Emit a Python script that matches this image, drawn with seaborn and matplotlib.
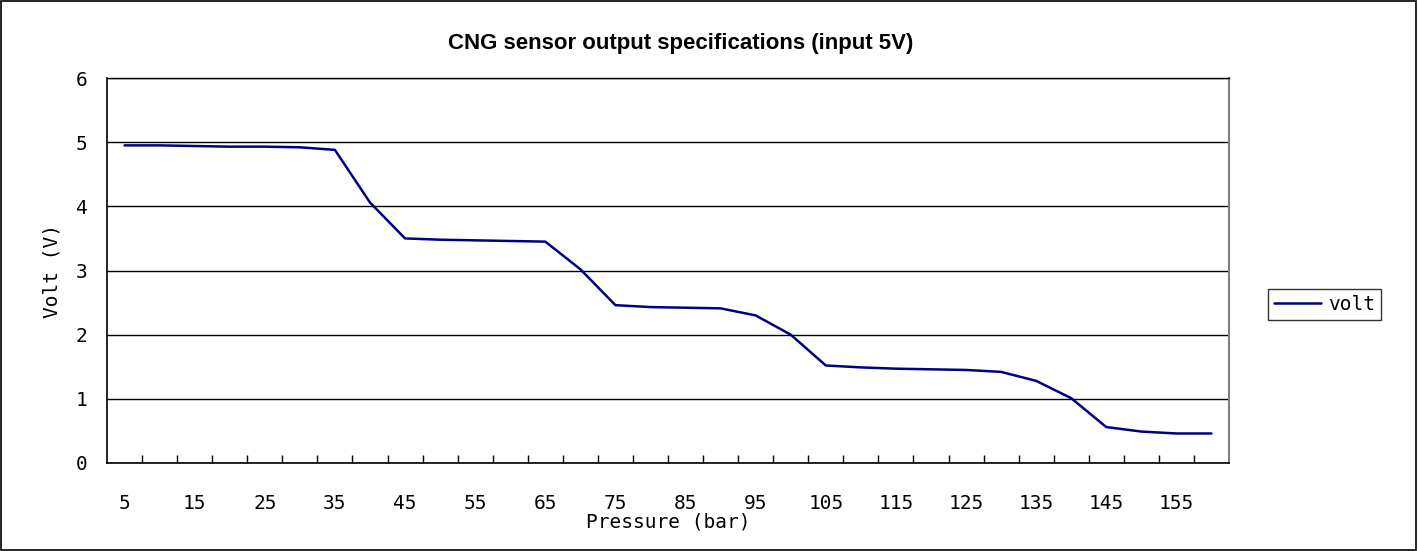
import matplotlib
matplotlib.use("Agg")
import matplotlib.pyplot as plt
import matplotlib.patches as mpatches
import numpy as np
import pandas as pd
import seaborn as sns

# --- Data ---
pressure = [5, 10, 15, 20, 25, 30, 35, 40, 45, 50, 55, 60, 65, 70, 75, 80,
            85, 90, 95, 100, 105, 110, 115, 120, 125, 130, 135, 140, 145, 150, 155, 160]
volt = [4.95, 4.95, 4.94, 4.93, 4.93, 4.92, 4.88, 4.06, 3.50, 3.48, 3.47, 3.46,
        3.45, 3.02, 2.46, 2.43, 2.42, 2.41, 2.30, 2.00, 1.52, 1.49, 1.47, 1.46,
        1.45, 1.42, 1.28, 1.01, 0.56, 0.49, 0.46, 0.46]
tick_labels = [5, 15, 25, 35, 45, 55, 65, 75, 85, 95, 105, 115, 125, 135, 145, 155]

df = pd.DataFrame({"Pressure": pressure, "volt": volt})

sns.set_theme(style="white")
mono = "DejaVu Sans Mono"
fs = 14

fig = plt.figure(figsize=(14.18, 5.51), dpi=100)
ax = fig.add_axes([107 / 1418, 1 - 463 / 551, (1229 - 107) / 1418, (463 - 78) / 551])

sns.lineplot(data=df, x="Pressure", y="volt", ax=ax, color="#000080",
             linewidth=1.8, label="volt")

ax.set_xlim(2.5, 162.5)
ax.set_ylim(0, 6)

# horizontal gridlines
ax.set_yticks(range(0, 7))
ax.yaxis.grid(True, color="black", linewidth=1.0)
ax.xaxis.grid(False)

# category-style ticks: labels at centers, marks at boundaries
ax.set_xticks(tick_labels)
ax.set_xticklabels([str(t) for t in tick_labels], fontfamily=mono, fontsize=fs, color="black")
ax.set_xticks(np.arange(7.5, 162.5, 5), minor=True)
ax.tick_params(axis="x", which="major", length=0, pad=22)
ax.tick_params(axis="x", which="minor", direction="in", length=6, width=1, color="black", bottom=True)
ax.tick_params(axis="y", which="major", length=0, pad=14)
for lbl in ax.get_yticklabels():
    lbl.set_fontfamily(mono)
    lbl.set_fontsize(fs)
    lbl.set_color("black")

for side in ["left", "bottom"]:
    ax.spines[side].set_color("black")
    ax.spines[side].set_linewidth(1.2)
ax.spines["right"].set_color("#808080")
ax.spines["right"].set_linewidth(1.5)
ax.spines["top"].set_color("black")
ax.spines["top"].set_linewidth(1.0)

ax.set_xlabel("Pressure (bar)", fontfamily=mono, fontsize=fs, labelpad=0, color="black")
ax.set_ylabel("Volt (V)", fontfamily=mono, fontsize=fs, labelpad=10, color="black")

fig.text(681 / 1418, 1 - 44 / 551, "CNG sensor output specifications (input 5V)",
         ha="center", va="center", fontfamily="Liberation Sans", fontweight="bold",
         fontsize=16, color="black")

leg = ax.legend(loc="center left", bbox_to_anchor=(1268 / 1418, 1 - 304.5 / 551),
                bbox_transform=fig.transFigure, frameon=True, fancybox=False,
                prop={"family": mono, "size": fs}, handlelength=2.4, handletextpad=0.4,
                borderpad=0.3, borderaxespad=0)
leg.get_frame().set_edgecolor("black")
leg.get_frame().set_linewidth(1.0)
for t in leg.get_texts():
    t.set_color("black")

# outer chart border
fig.patches.append(mpatches.Rectangle((0.0005, 0.001), 0.998, 0.997, transform=fig.transFigure,
                                      fill=False, edgecolor="black", linewidth=1.2))

fig.savefig("out.png", dpi=100)
